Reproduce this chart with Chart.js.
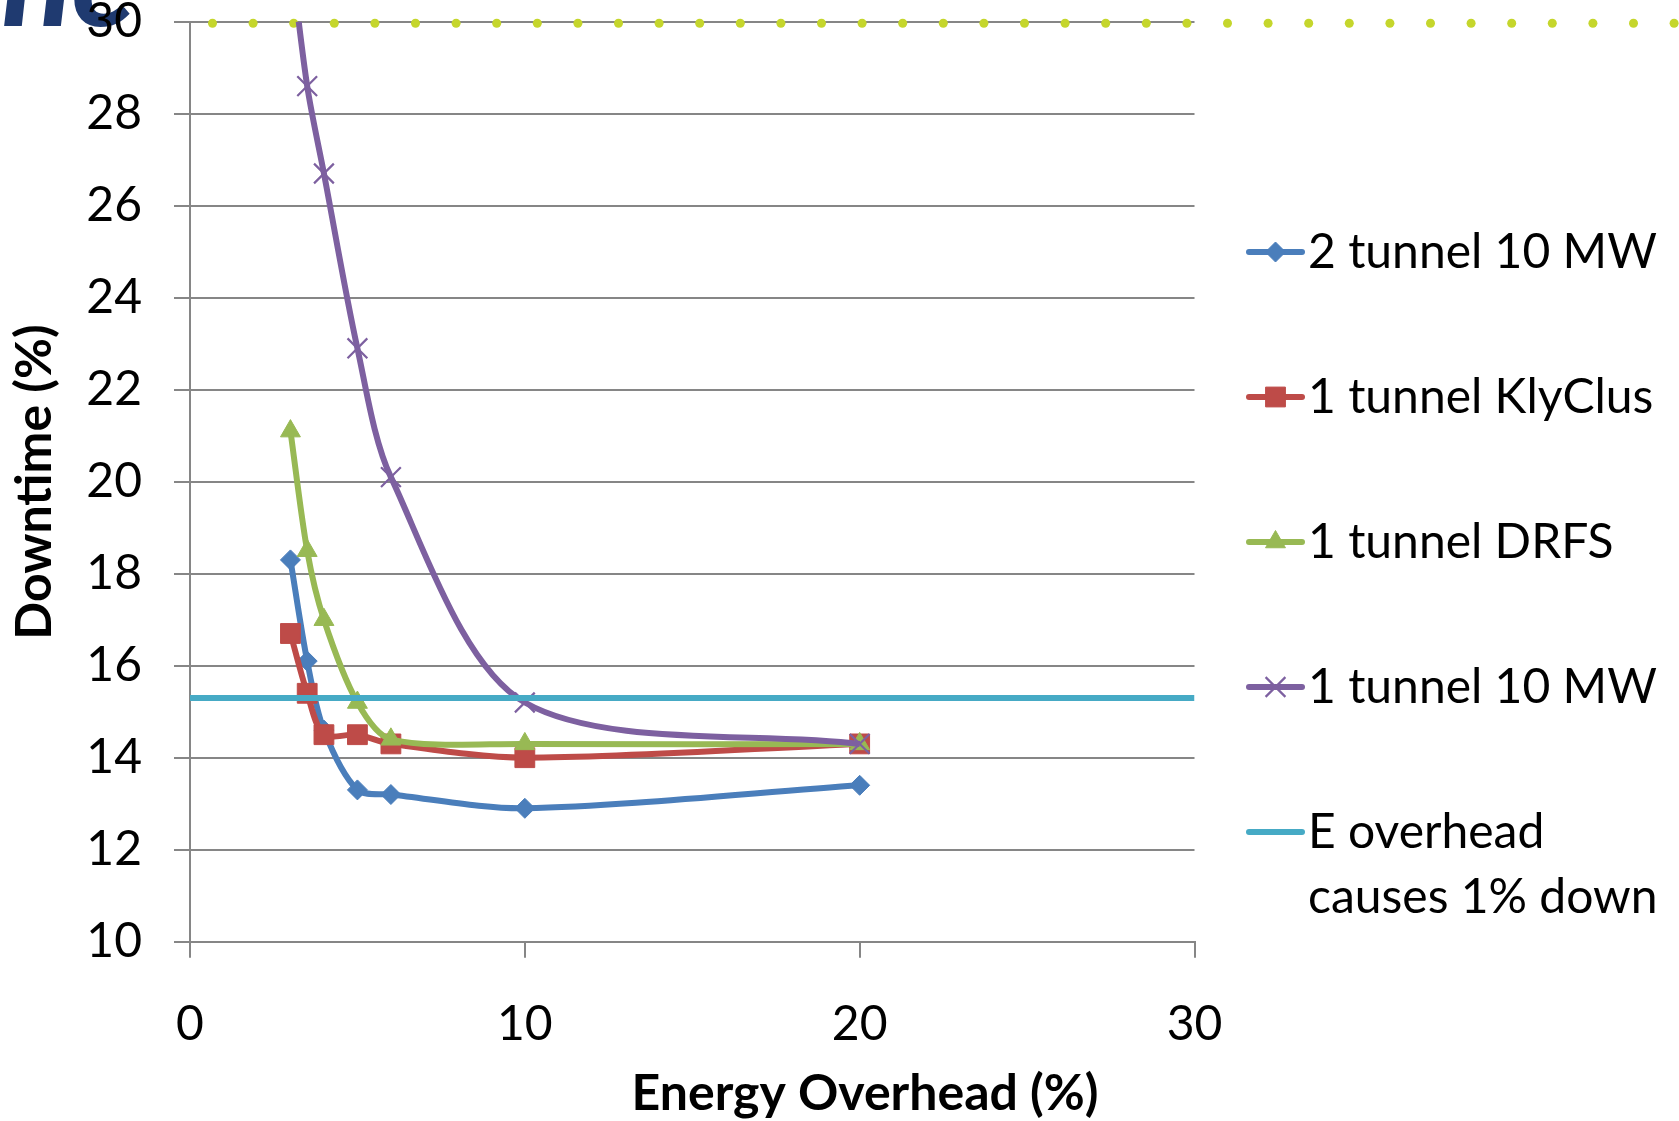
<!DOCTYPE html>
<html>
<head>
<meta charset="utf-8">
<title>Downtime vs Energy Overhead</title>
<script src="https://cdn.jsdelivr.net/npm/chart.js@4.4.1/dist/chart.umd.min.js"></script>
<style>
  html, body { margin: 0; padding: 0; background: #fff; }
  #wrap { width: 1679px; height: 1121px; }
</style>
</head>
<body>
<div id="wrap"><canvas id="downtimeChart" width="1679" height="1121"></canvas></div>
<script>
// values
const energyOverhead = [3, 3.5, 4, 5, 6, 10, 20]
const downtime2Tunnel10MW = [18.3, 16.1, 14.6, 13.3, 13.2, 12.9, 13.4]
const downtime1TunnelKlyClus = [16.7, 15.4, 14.5, 14.5, 14.3, 14.0, 14.3]
const downtime1TunnelDRFS = [21.1, 18.5, 17.0, 15.2, 14.4, 14.3, 14.3]
const downtime1Tunnel10MW = [31.5, 28.6, 26.7, 22.9, 20.1, 15.2, 14.3]
const limitX = [0, 30]
const limitY = [15.3, 15.3]

const seriesLabels = ['2 tunnel 10 MW', '1 tunnel KlyClus', '1 tunnel DRFS', '1 tunnel 10 MW', ['E overhead', 'causes 1% down']]
const xTicks = [0, 10, 20, 30]
const yMin = 10, yMax = 30, yStep = 2

const FONT = 'Lato, "Open Sans", sans-serif'
const GRID = '#868686'
const LINE_W = 6

function toPoints(xs, ys) {
  return xs.map((x, i) => ({ x: x, y: ys[i] }))
}

// axis titles, legend and slide decorations
const extras = {
  id: 'extras',
  beforeDraw(chart) {
    const ctx = chart.ctx
    ctx.save()
    // bit of the slide logo that peeks in at the top left
    ctx.fillStyle = '#1f3a70'
    ctx.font = 'italic 900 128px ' + FONT
    ctx.textBaseline = 'alphabetic'
    ctx.fillText('ne', 2, 26)
    ctx.restore()
  },
  beforeDatasetsDraw(chart) {
    const ctx = chart.ctx
    ctx.save()
    // dotted slide rule along the top
    ctx.fillStyle = '#c5d62c'
    for (let x = 212.5; x < chart.width + 5; x += 40.6) {
      ctx.beginPath()
      ctx.arc(x, 23.3, 4.5, 0, Math.PI * 2)
      ctx.fill()
    }
    ctx.restore()
  },
  afterDraw(chart) {
    const ctx = chart.ctx
    ctx.save()
    ctx.fillStyle = '#000'
    ctx.font = 'bold 50px ' + FONT
    ctx.textAlign = 'center'
    ctx.textBaseline = 'middle'
    ctx.fillText('Energy Overhead (%)', 865, 1094)
    ctx.translate(35, 482)
    ctx.rotate(-Math.PI / 2)
    ctx.fillText('Downtime (%)', 0, 0)
    ctx.restore()

    // legend: line with marker, then text
    ctx.save()
    chart.data.datasets.forEach((ds, i) => {
      const y = 252 + i * 145
      ctx.strokeStyle = ds.borderColor
      ctx.lineWidth = LINE_W
      ctx.lineCap = 'round'
      ctx.beginPath()
      ctx.moveTo(1249, y)
      ctx.lineTo(1302, y)
      ctx.stroke()
      if (ds.pointRadius > 0) {
        ctx.fillStyle = ds.pointBackgroundColor
        ctx.strokeStyle = ds.pointBorderColor
        ctx.lineWidth = ds.pointBorderWidth
        ctx.lineCap = 'butt'
        Chart.helpers.drawPoint(ctx, {
          pointStyle: ds.pointStyle, radius: ds.pointRadius,
          borderWidth: ds.pointBorderWidth, rotation: 0
        }, 1275.5, y)
      }
      ctx.fillStyle = '#000'
      ctx.font = '48px ' + FONT
      ctx.textAlign = 'left'
      ctx.textBaseline = 'alphabetic'
      const lines = [].concat(seriesLabels[i])
      lines.forEach((t, k) => ctx.fillText(t, 1308, y + 16 + k * 65))
    })
    ctx.restore()
  }
}

function series(label, ys, color, style, radius, pbw, order) {
  return {
    label: label,
    data: toPoints(energyOverhead, ys),
    borderColor: color,
    backgroundColor: color,
    borderWidth: LINE_W,
    pointStyle: style,
    pointRadius: radius,
    pointBackgroundColor: color,
    pointBorderColor: color,
    pointBorderWidth: pbw,
    tension: 0.3,
    order: order
  }
}

const ctx = document.getElementById('downtimeChart').getContext('2d')
const downtimeChart = new Chart(ctx, {
  type: 'line',
  data: {
    datasets: [
      series(seriesLabels[0], downtime2Tunnel10MW, '#4a7ebb', 'rectRot', 10, 1, 4),
      series(seriesLabels[1], downtime1TunnelKlyClus, '#be4b48', 'rect', 14, 1, 3),
      series(seriesLabels[2], downtime1TunnelDRFS, '#98b954', 'triangle', 11.5, 1, 2),
      series(seriesLabels[3], downtime1Tunnel10MW, '#7d60a0', 'crossRot', 14, 2.2, 1),
      {
        label: 'E overhead causes 1% down',
        data: toPoints(limitX, limitY),
        borderColor: '#46aac5',
        backgroundColor: '#46aac5',
        borderWidth: LINE_W,
        pointRadius: 0,
        order: 0
      }
    ]
  },
  options: {
    responsive: false,
    animation: false,
    devicePixelRatio: 1,
    layout: { padding: { left: 0, top: 21.7, right: 484.5, bottom: 0 } },
    elements: { line: { capBezierPoints: false } },
    plugins: {
      legend: { display: false },
      tooltip: { enabled: false },
      title: { display: false }
    },
    scales: {
      x: {
        type: 'linear',
        min: 0,
        max: 30,
        afterBuildTicks: (scale) => { scale.ticks = xTicks.map(v => ({ value: v })) },
        ticks: { font: { family: FONT, size: 48 }, color: '#000', padding: 38 },
        grid: { drawOnChartArea: false, color: GRID, lineWidth: 2, tickLength: 16 },
        border: { display: true, color: GRID, width: 2 },
        afterFit: (scale) => {
          scale.height = 1121 - 941.7
          scale.paddingLeft = 0
          scale.paddingRight = 0
        }
      },
      y: {
        min: yMin,
        max: yMax,
        ticks: { stepSize: yStep, font: { family: FONT, size: 48 }, color: '#000', padding: 32 },
        grid: { color: GRID, lineWidth: 2, tickLength: 16 },
        border: { display: true, color: GRID, width: 2 },
        afterFit: (scale) => {
          scale.width = 190
          scale.paddingTop = 0
          scale.paddingBottom = 0
        }
      }
    }
  },
  plugins: [extras]
})
</script>
</body>
</html>
